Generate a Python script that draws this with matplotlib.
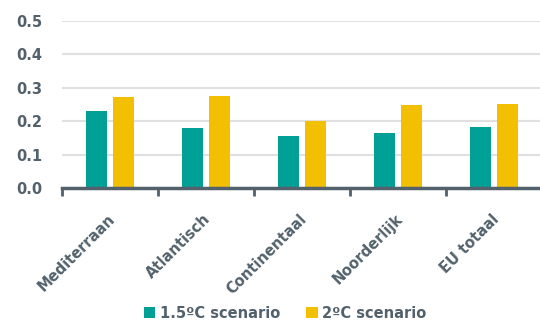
import matplotlib.pyplot as plt
import matplotlib.transforms as mtransforms
import numpy as np

regions = ["Mediterraan", "Atlantisch", "Continentaal", "Noorderlijk", "EU totaal"]
scen_15 = [0.23, 0.18, 0.155, 0.165, 0.183]
scen_20 = [0.273, 0.276, 0.20, 0.25, 0.252]
series_names = ["1.5ºC scenario", "2ºC scenario"]

teal = "#00a096"
yellow = "#f2c000"
ink = "#52616b"

plt.rcParams["font.family"] = ["DejaVu Sans"]

fig = plt.figure(figsize=(5.4, 3.27), dpi=100)
ax = fig.add_axes([62 / 540, 1 - 188 / 327, 478 / 540, 167 / 327])

x = np.arange(len(regions))
w = 0.22
ax.bar(x - 0.14, scen_15, w, color=teal, label=series_names[0], zorder=3)
ax.bar(x + 0.14, scen_20, w, color=yellow, label=series_names[1], zorder=3)

ax.set_xlim(-0.5, 4.48)
ax.set_ylim(0, 0.5)
ax.set_yticks(np.arange(0, 0.51, 0.1))
ax.set_yticklabels([f"{v:.1f}" for v in np.arange(0, 0.51, 0.1)])
ax.yaxis.grid(True, color="#e0e0e0", linewidth=1.5, zorder=0)

# category labels at centres, tick marks at boundaries
ax.set_xticks(x)
ax.set_xticklabels(regions, rotation=45, ha="right", va="top", rotation_mode="anchor")
ax.set_xticks(x - 0.5, minor=True)
ax.tick_params(axis="x", which="major", length=0, pad=17)
ax.tick_params(axis="x", which="minor", length=6, width=2, color=ink)
ax.tick_params(axis="y", length=0, pad=14)
offset = mtransforms.ScaledTranslation(-3 / 100, 0, fig.dpi_scale_trans)
for lbl in ax.get_xticklabels():
    lbl.set_transform(lbl.get_transform() + offset)

for lbl in ax.get_xticklabels() + ax.get_yticklabels():
    lbl.set_fontsize(10.5)
    lbl.set_fontweight("bold")
    lbl.set_color(ink)

for side in ["top", "right", "left"]:
    ax.spines[side].set_visible(False)
ax.spines["bottom"].set_color(ink)
ax.spines["bottom"].set_linewidth(2.5)
ax.spines["bottom"].set_zorder(4)

leg = fig.legend(loc="center", bbox_to_anchor=(285 / 540, 1 - 313 / 327), ncol=2,
                 frameon=False, handlelength=0.8, handleheight=0.8,
                 handletextpad=0.3, columnspacing=1.8,
                 prop={"size": 10.5, "weight": "bold"})
for t in leg.get_texts():
    t.set_color(ink)

fig.savefig("out.png", dpi=100)
